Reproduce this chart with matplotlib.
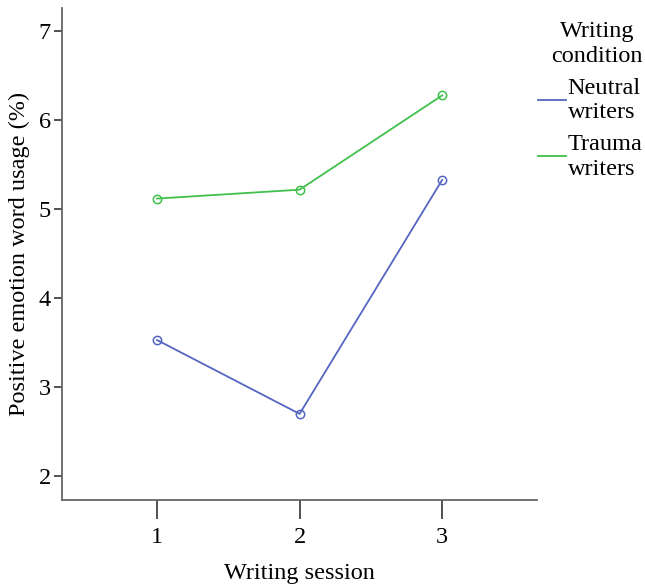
import matplotlib.pyplot as plt

plt.rcParams["font.family"] = ["Liberation Serif", "DejaVu Serif"]

sessions = [1, 2, 3]
neutral = [3.53, 2.70, 5.33]
trauma = [5.12, 5.22, 6.28]
labels = ["Neutral\nwriters", "Trauma\nwriters"]
colors = ["#5466c2", "#40c04c"]


def main():
    fig = plt.figure(figsize=(6.45, 5.85), dpi=100)
    ax = fig.add_axes([0.096, 0.145, 0.737, 0.841])

    for values, label, color in zip([neutral, trauma], labels, colors):
        ax.plot(
            sessions,
            values,
            color=color,
            linewidth=1.3,
            marker="o",
            markersize=6,
            markerfacecolor="none",
            markeredgewidth=1.1,
            label=label,
        )

    ax.set_xlim(0.333, 3.667)
    ax.set_ylim(1.73, 7.26)
    ax.set_xticks(sessions)
    ax.set_yticks([2, 3, 4, 5, 6, 7])

    for side in ["top", "right"]:
        ax.spines[side].set_visible(False)
    for side in ["left", "bottom"]:
        ax.spines[side].set_color("#666666")
        ax.spines[side].set_linewidth(1.3)

    ax.tick_params(axis="x", length=14, width=1.3, color="#444444", labelsize=17.5, pad=5)
    ax.tick_params(axis="y", length=6, width=1.3, color="#444444", labelsize=17.5, pad=2)

    ax.set_xlabel("Writing session", fontsize=17.5, labelpad=11)
    ax.set_ylabel("Positive emotion word usage (%)", fontsize=17.5, labelpad=6)

    leg = fig.legend(
        loc="upper left",
        bbox_to_anchor=(0.826, 0.972),
        borderaxespad=0,
        borderpad=0.2,
        title="Writing\ncondition",
        fontsize=17.5,
        title_fontsize=17.5,
        frameon=False,
        handlelength=1.15,
        handletextpad=0.08,
        labelspacing=0.45,
    )
    leg.get_title().set_multialignment("center")
    leg.get_title().set_linespacing(1.25)
    leg.get_title().set_position((7, 0))
    for t in leg.get_texts():
        t.set_linespacing(1.2)
    for h in leg.legend_handles:
        h.set_marker("None")

    fig.savefig("out.png", dpi=100)
    plt.close(fig)


if __name__ == "__main__":
    main()
